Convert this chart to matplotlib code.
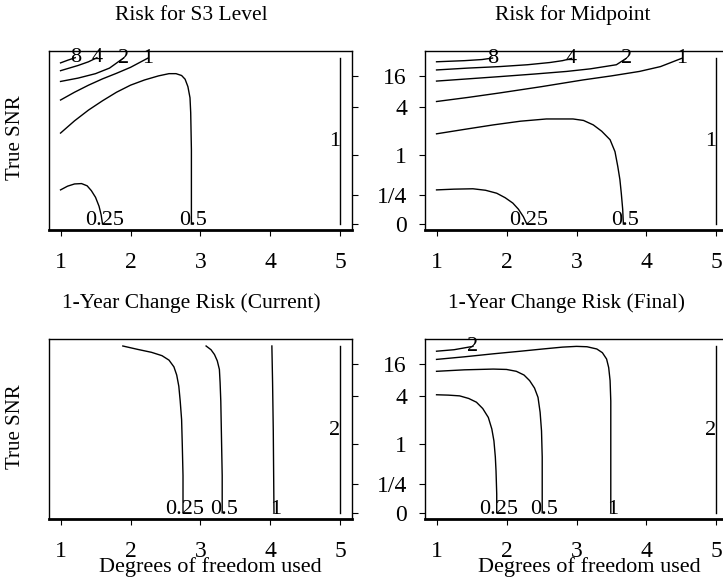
import numpy as np
import matplotlib
matplotlib.use('Agg')
import matplotlib.pyplot as plt

plt.rcParams['font.family'] = ['Liberation Serif', 'DejaVu Serif']

# axis ticks (y is a transformed SNR scale, positions)
x_ticks = [1, 2, 3, 4, 5]
snr_labels = ['0', '1/4', '1', '4', '16']
snr_pos = [0, 0.785, 1.855, 3.14, 4.0]

# Risk for S3 Level: contour levels and line points (label sits at the last point)
s3_levels = ['8', '4', '2', '1', '0.5', '0.25', '1']
s3_x = [[1.0, 1.1, 1.21],
        [1.0, 1.25, 1.4, 1.52],
        [1.0, 1.25, 1.5, 1.7, 1.9],
        [1.0, 1.2, 1.4, 1.6, 1.8, 2.0, 2.25],
        [1.0, 1.2, 1.4, 1.6, 1.8, 2.0, 2.2, 2.4, 2.55, 2.65, 2.73, 2.78, 2.82, 2.85, 2.86, 2.87, 2.87],
        [1.0, 1.1, 1.2, 1.3, 1.38, 1.44, 1.5, 1.55, 1.58, 1.6],
        [5.0, 5.0, 5.0]]
s3_y = [[4.34, 4.41, 4.48],
        [4.13, 4.27, 4.37, 4.48],
        [3.84, 3.93, 4.05, 4.2, 4.47],
        [3.34, 3.55, 3.74, 3.91, 4.06, 4.22, 4.47],
        [2.45, 2.78, 3.07, 3.32, 3.55, 3.74, 3.88, 3.99, 4.05, 4.05, 4.0, 3.9, 3.7, 3.4, 3.0, 2.0, 0.0],
        [0.92, 1.02, 1.08, 1.09, 1.03, 0.90, 0.72, 0.48, 0.25, 0.0],
        [0.0, 4.47, 2.22]]

# Risk for Midpoint
mid_levels = ['8', '4', '2', '1', '0.5', '0.25', '1']
mid_x = [[1.0, 1.4, 1.65, 1.8],
         [1.0, 1.45, 1.9, 2.3, 2.62, 2.8, 2.93],
         [1.0, 1.45, 1.9, 2.4, 2.86, 3.2, 3.57, 3.71],
         [1.0, 1.45, 1.9, 2.5, 3.09, 3.5, 3.9, 4.2, 4.5],
         [1.0, 1.4, 1.81, 2.2, 2.57, 2.95, 3.1, 3.24, 3.36, 3.48, 3.55, 3.59, 3.62, 3.64, 3.66, 3.67],
         [1.0, 1.25, 1.52, 1.7, 1.86, 1.98, 2.09, 2.17, 2.24, 2.29],
         [5.0, 5.0, 5.0]]
mid_y = [[4.37, 4.40, 4.43, 4.47],
         [4.15, 4.2, 4.24, 4.29, 4.35, 4.40, 4.46],
         [3.85, 3.91, 3.97, 4.04, 4.11, 4.18, 4.29, 4.46],
         [3.30, 3.41, 3.53, 3.70, 3.88, 3.99, 4.11, 4.24, 4.46],
         [2.43, 2.55, 2.67, 2.77, 2.83, 2.83, 2.79, 2.67, 2.5, 2.27, 1.95, 1.55, 1.2, 0.83, 0.4, 0.0],
         [0.92, 0.94, 0.95, 0.91, 0.83, 0.71, 0.565, 0.40, 0.20, 0.0],
         [0.0, 4.47, 2.22]]

# 1-Year Change Risk (Current)
cur_levels = ['0.25', '0.5', '1', '2']
cur_x = [[1.89, 2.1, 2.3, 2.45, 2.55, 2.62, 2.66, 2.69, 2.71, 2.73, 2.74, 2.75, 2.75],
         [3.08, 3.15, 3.2, 3.24, 3.27, 3.28, 3.29, 3.30, 3.31, 3.31],
         [4.02, 4.03, 4.04, 4.05],
         [5.0, 5.0, 5.0]]
cur_y = [[4.48, 4.39, 4.31, 4.22, 4.1, 3.92, 3.7, 3.4, 3.0, 2.5, 1.8, 1.0, 0.0],
         [4.48, 4.38, 4.25, 4.08, 3.85, 3.5, 3.0, 2.0, 1.0, 0.0],
         [4.48, 3.5, 2.2, 0.0],
         [0.0, 4.48, 2.2]]

# 1-Year Change Risk (Final)
fin_levels = ['2', '1', '0.5', '0.25', '2']
fin_x = [[1.0, 1.25, 1.52],
         [1.0, 1.4, 1.81, 2.2, 2.52, 2.8, 3.0, 3.15, 3.29, 3.37, 3.43, 3.46, 3.48, 3.49, 3.49, 3.49],
         [1.0, 1.4, 1.81, 2.0, 2.14, 2.25, 2.33, 2.40, 2.45, 2.48, 2.50, 2.51, 2.51],
         [1.0, 1.17, 1.33, 1.46, 1.57, 1.66, 1.74, 1.79, 1.82, 1.84, 1.85, 1.86, 1.86],
         [5.0, 5.0, 5.0]]
fin_y = [[4.34, 4.38, 4.47],
         [4.12, 4.19, 4.27, 4.34, 4.40, 4.45, 4.47, 4.46, 4.40, 4.30, 4.13, 3.9, 3.55, 3.0, 1.5, 0.0],
         [3.80, 3.84, 3.86, 3.85, 3.80, 3.70, 3.55, 3.35, 3.10, 2.7, 2.20, 1.5, 0.0],
         [3.17, 3.16, 3.14, 3.07, 2.97, 2.80, 2.56, 2.25, 1.93, 1.5, 1.12, 0.5, 0.0],
         [0.0, 4.47, 2.2]]

titles = ['Risk for S3 Level', 'Risk for Midpoint',
          '1-Year Change Risk (Current)', '1-Year Change Risk (Final)']


def draw_panel(ax, xs, ys, levels, right_side):
    for lx, ly, lev in zip(xs, ys, levels):
        if lx[0] == lx[-1] == 5.0:
            # vertical contour on the right border, label at the middle
            ax.plot(lx[:2], ly[:2], color='black', lw=1.0)
            ax.text(lx[2], ly[2], lev, ha='right', va='center', fontsize=16)
            continue
        ax.plot(lx, ly, color='black', lw=1.0)
        if ly[-1] < 1:
            ax.text(lx[-1] + 0.03, ly[-1] + 0.1, lev, ha='center', va='center', fontsize=16)
        else:
            ax.text(lx[-1], ly[-1], lev, ha='center', va='center', fontsize=16)
    ax.set_xlim(0.835, 5.165)
    ax.set_ylim(-0.16, 4.66)
    ax.set_xticks(x_ticks)
    ax.set_xticklabels([str(t) for t in x_ticks], fontsize=17)
    ax.tick_params(axis='x', direction='out', length=4, width=0.8, pad=12)
    ax.set_yticks(snr_pos)
    if right_side:
        ax.yaxis.tick_left()
        ax.set_yticklabels(snr_labels, fontsize=17)
        ax.tick_params(axis='y', direction='out', length=4, width=0.8, pad=9)
    else:
        ax.yaxis.tick_right()
        ax.tick_params(axis='y', direction='out', length=4, width=0.8, labelright=False)
    for s in ['left', 'top', 'right']:
        ax.spines[s].set_linewidth(1.0)
    ax.spines['bottom'].set_linewidth(2.0)


fig = plt.figure(figsize=(7.23, 5.81), dpi=100)
W, H = 723.0, 581.0
ax1 = fig.add_axes([49 / W, (H - 230) / H, 303 / W, 179 / H])
ax2 = fig.add_axes([425 / W, (H - 230) / H, 303 / W, 179 / H])
ax3 = fig.add_axes([49 / W, (H - 518.7) / H, 303 / W, 179.4 / H])
ax4 = fig.add_axes([425 / W, (H - 518.7) / H, 303 / W, 179.4 / H])

draw_panel(ax1, s3_x, s3_y, s3_levels, False)
draw_panel(ax2, mid_x, mid_y, mid_levels, True)
draw_panel(ax3, cur_x, cur_y, cur_levels, False)
draw_panel(ax4, fin_x, fin_y, fin_levels, True)

# titles and axis labels placed as in the original layout
fig.text(191.5 / W, 1 - 15 / H, titles[0], ha='center', va='center', fontsize=15.5)
fig.text(573 / W, 1 - 15 / H, titles[1], ha='center', va='center', fontsize=15.5)
fig.text(191 / W, 1 - 303 / H, titles[2], ha='center', va='center', fontsize=15.5)
fig.text(567 / W, 1 - 303 / H, titles[3], ha='center', va='center', fontsize=15.5)
fig.text(16 / W, 1 - 138 / H, 'True SNR', rotation=90, ha='center', va='center', fontsize=15)
fig.text(16 / W, 1 - 427 / H, 'True SNR', rotation=90, ha='center', va='center', fontsize=15)
fig.text(210 / W, 1 - 567 / H, 'Degrees of freedom used', ha='center', va='center', fontsize=16)
fig.text(589 / W, 1 - 567 / H, 'Degrees of freedom used', ha='center', va='center', fontsize=16)

fig.savefig('out.png', dpi=100)
